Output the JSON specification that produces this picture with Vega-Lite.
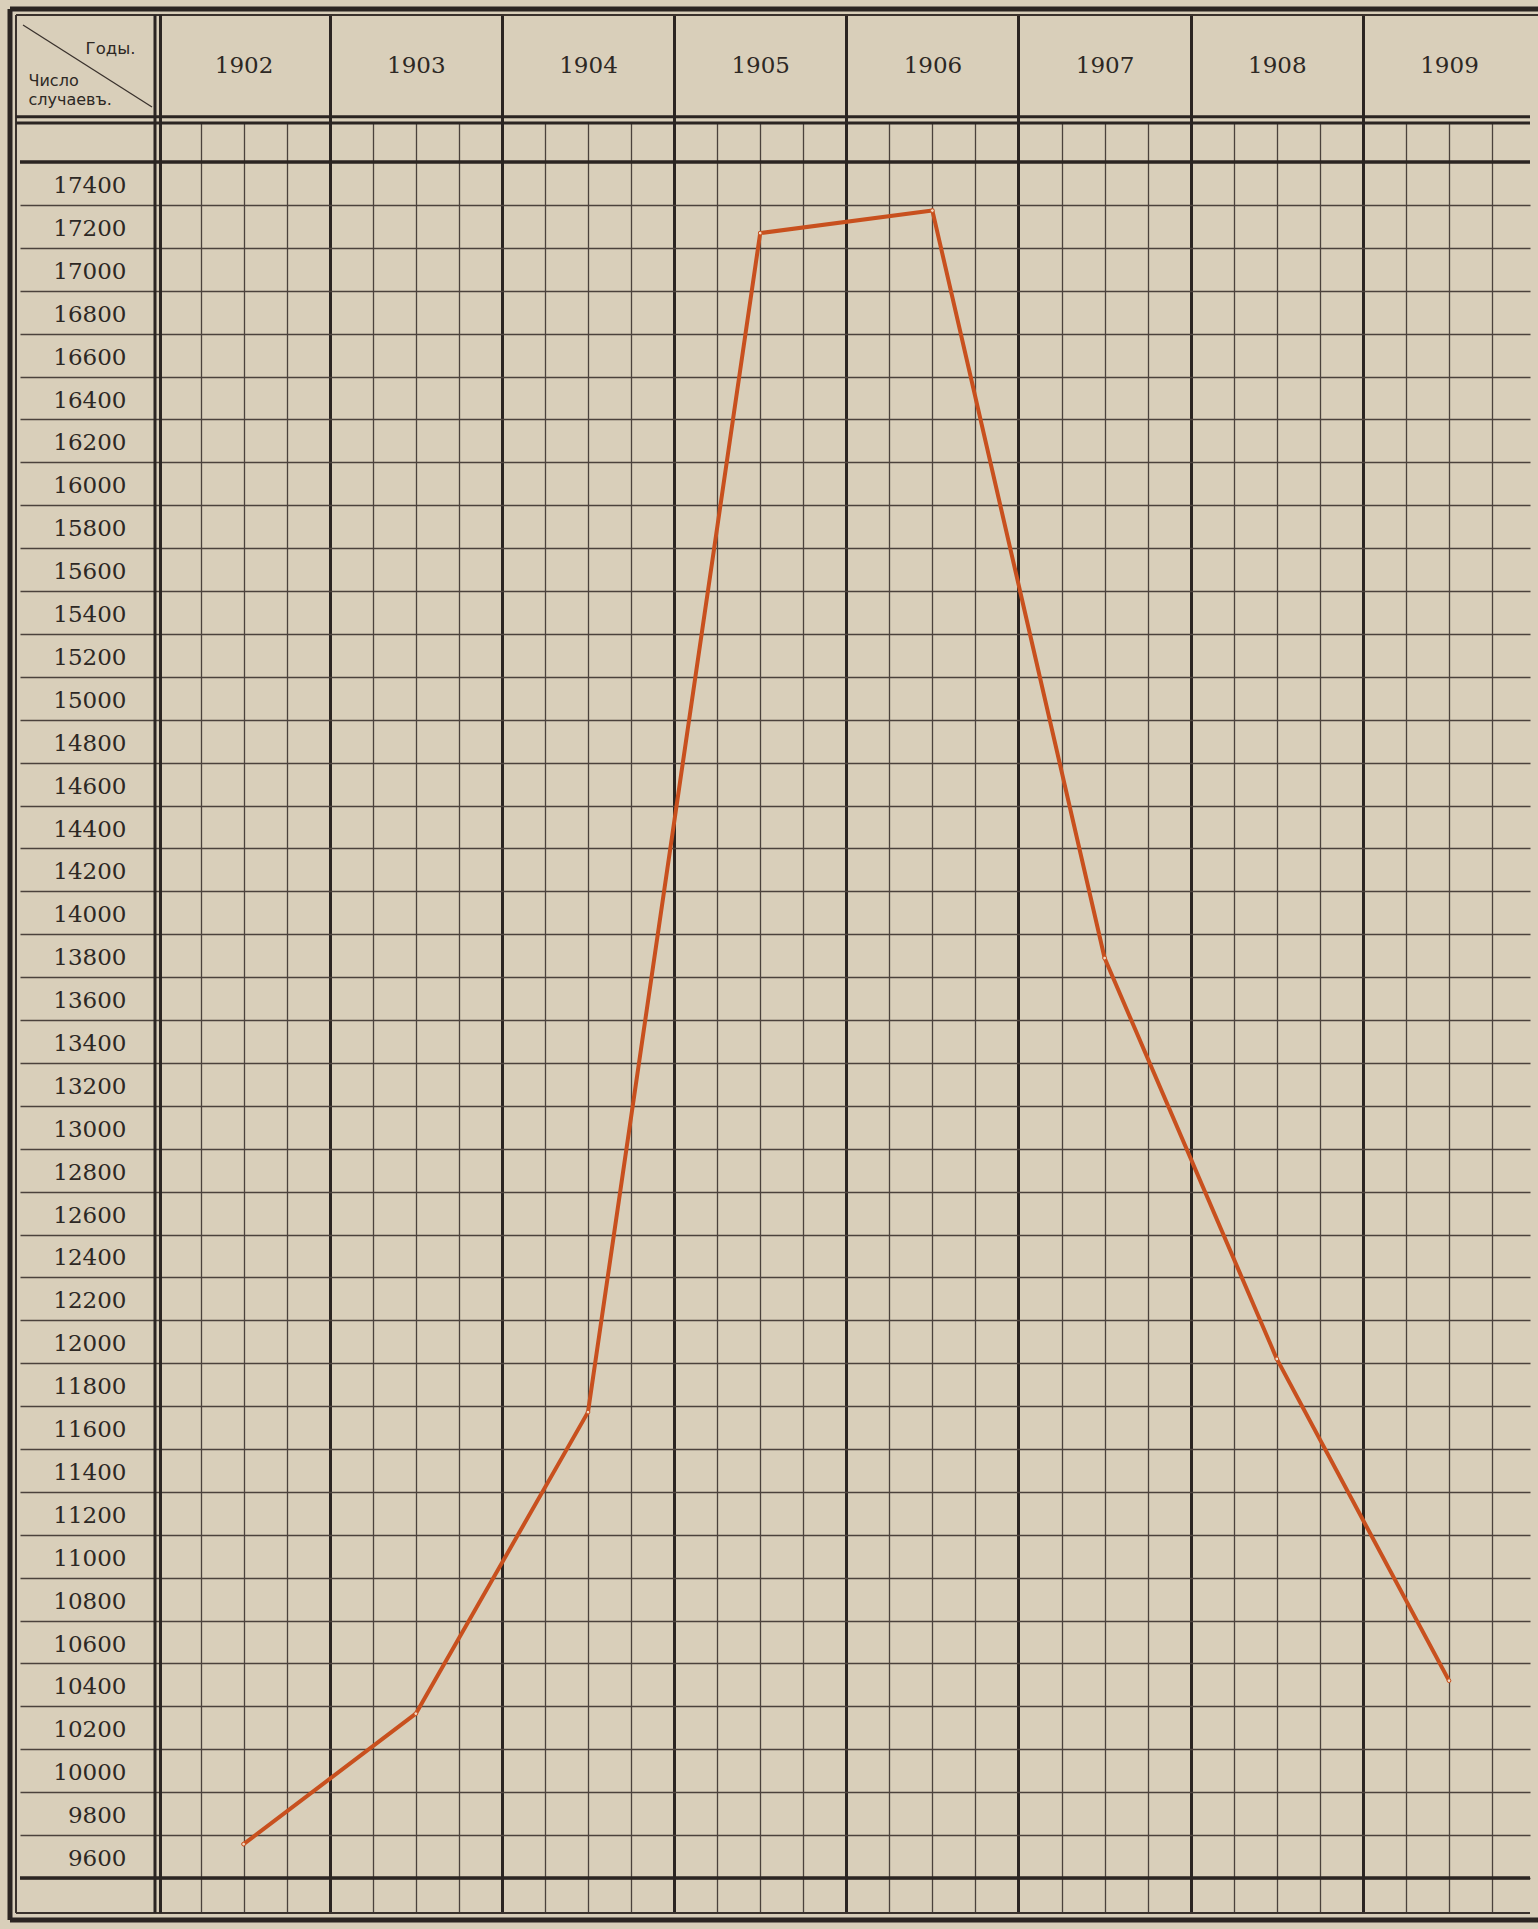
{
  "$schema": "https://vega.github.io/schema/vega-lite/v6.json",
  "width": 1375,
  "height": 1790,
  "autosize": {"type": "none"},
  "padding": {"left": 155, "top": 123, "right": 8, "bottom": 16},
  "background": "#d9cfba",
  "config": {"view": {"stroke": null}},
  "resolve": {"axis": {"x": "independent", "y": "independent"}},
  "layer": [
    {
      "data": {"values": [{}]},
      "mark": {"type": "rule", "color": "#2b2522", "strokeWidth": 5},
      "encoding": {
        "x": {"datum": 1900.6435, "type": "quantitative", "scale": {"domain": [1901.4855, 1909.4704], "nice": false, "zero": false}, "axis": null},
        "y": {"datum": 18213.82, "type": "quantitative", "scale": {"domain": [9336.74, 17682.31], "nice": false, "zero": false}, "axis": null},
        "y2": {"datum": 9304.1}
      }
    },
    {
      "data": {"values": [{}]},
      "mark": {"type": "rule", "color": "#2b2522", "strokeWidth": 5},
      "encoding": {
        "y": {"datum": 18213.82, "type": "quantitative", "scale": {"domain": [9336.74, 17682.31], "nice": false, "zero": false}, "axis": null},
        "x": {"datum": 1900.6435, "type": "quantitative", "scale": {"domain": [1901.4855, 1909.4704], "nice": false, "zero": false}, "axis": null},
        "x2": {"datum": 1909.5169}
      }
    },
    {
      "data": {"values": [{}]},
      "mark": {"type": "rule", "color": "#2b2522", "strokeWidth": 5},
      "encoding": {
        "y": {"datum": 9304.1, "type": "quantitative", "scale": {"domain": [9336.74, 17682.31], "nice": false, "zero": false}, "axis": null},
        "x": {"datum": 1900.6435, "type": "quantitative", "scale": {"domain": [1901.4855, 1909.4704], "nice": false, "zero": false}, "axis": null},
        "x2": {"datum": 1909.5169}
      }
    },
    {
      "data": {"values": [{}]},
      "mark": {"type": "rule", "color": "#3a322d", "strokeWidth": 2},
      "encoding": {
        "x": {"datum": 1900.6783, "type": "quantitative", "scale": {"domain": [1901.4855, 1909.4704], "nice": false, "zero": false}, "axis": null},
        "y": {"datum": 18185.84, "type": "quantitative", "scale": {"domain": [9336.74, 17682.31], "nice": false, "zero": false}, "axis": null},
        "y2": {"datum": 9336.74}
      }
    },
    {
      "data": {"values": [{}]},
      "mark": {"type": "rule", "color": "#3a322d", "strokeWidth": 2},
      "encoding": {
        "y": {"datum": 18185.84, "type": "quantitative", "scale": {"domain": [9336.74, 17682.31], "nice": false, "zero": false}, "axis": null},
        "x": {"datum": 1900.6783, "type": "quantitative", "scale": {"domain": [1901.4855, 1909.4704], "nice": false, "zero": false}, "axis": null},
        "x2": {"datum": 1909.5169}
      }
    },
    {
      "data": {"values": [{}]},
      "mark": {"type": "rule", "color": "#3a322d", "strokeWidth": 2},
      "encoding": {
        "y": {"datum": 9336.74, "type": "quantitative", "scale": {"domain": [9336.74, 17682.31], "nice": false, "zero": false}, "axis": null},
        "x": {"datum": 1900.6783, "type": "quantitative", "scale": {"domain": [1901.4855, 1909.4704], "nice": false, "zero": false}, "axis": null},
        "x2": {"datum": 1909.4704}
      }
    },
    {
      "data": {"values": [{}]},
      "mark": {"type": "rule", "color": "#2b2522", "strokeWidth": 3},
      "encoding": {
        "y": {"datum": 17711.68, "type": "quantitative", "scale": {"domain": [9336.74, 17682.31], "nice": false, "zero": false}, "axis": null},
        "x": {"datum": 1900.6783, "type": "quantitative", "scale": {"domain": [1901.4855, 1909.4704], "nice": false, "zero": false}, "axis": null},
        "x2": {"datum": 1909.4704}
      }
    },
    {
      "data": {"values": [{}]},
      "mark": {"type": "rule", "color": "#2b2522", "strokeWidth": 3},
      "encoding": {
        "y": {"datum": 17682.31, "type": "quantitative", "scale": {"domain": [9336.74, 17682.31], "nice": false, "zero": false}, "axis": null},
        "x": {"datum": 1900.6783, "type": "quantitative", "scale": {"domain": [1901.4855, 1909.4704], "nice": false, "zero": false}, "axis": null},
        "x2": {"datum": 1909.4704}
      }
    },
    {
      "data": {"values": [{}]},
      "mark": {"type": "rule", "color": "#2b2522", "strokeWidth": 3},
      "encoding": {
        "x": {"datum": 1901.4855, "type": "quantitative", "scale": {"domain": [1901.4855, 1909.4704], "nice": false, "zero": false}, "axis": null},
        "y": {"datum": 18185.84, "type": "quantitative", "scale": {"domain": [9336.74, 17682.31], "nice": false, "zero": false}, "axis": null},
        "y2": {"datum": 9336.74}
      }
    },
    {
      "data": {"values": [{}]},
      "mark": {"type": "rule", "color": "#2b2522", "strokeWidth": 3},
      "encoding": {
        "x": {"datum": 1901.5174, "type": "quantitative", "scale": {"domain": [1901.4855, 1909.4704], "nice": false, "zero": false}, "axis": null},
        "y": {"datum": 18185.84, "type": "quantitative", "scale": {"domain": [9336.74, 17682.31], "nice": false, "zero": false}, "axis": null},
        "y2": {"datum": 9336.74}
      }
    },
    {
      "data": {"values": [{}]},
      "mark": {"type": "rule", "color": "#2b2522", "strokeWidth": 3.5},
      "encoding": {
        "y": {"datum": 17500, "type": "quantitative", "scale": {"domain": [9336.74, 17682.31], "nice": false, "zero": false}, "axis": null},
        "x": {"datum": 1900.7015, "type": "quantitative", "scale": {"domain": [1901.4855, 1909.4704], "nice": false, "zero": false}, "axis": null},
        "x2": {"datum": 1909.4704}
      }
    },
    {
      "data": {"values": [{}]},
      "mark": {"type": "rule", "color": "#2b2522", "strokeWidth": 3.5},
      "encoding": {
        "y": {"datum": 9500, "type": "quantitative", "scale": {"domain": [9336.74, 17682.31], "nice": false, "zero": false}, "axis": null},
        "x": {"datum": 1900.7015, "type": "quantitative", "scale": {"domain": [1901.4855, 1909.4704], "nice": false, "zero": false}, "axis": null},
        "x2": {"datum": 1909.4704}
      }
    },
    {
      "data": {"values": [{}]},
      "mark": {"type": "rule", "color": "#3a322d", "strokeWidth": 1.3},
      "encoding": {
        "x": {"datum": 1900.719, "type": "quantitative", "scale": {"domain": [1901.4855, 1909.4704], "nice": false, "zero": false}, "axis": null},
        "y": {"datum": 18139.22, "type": "quantitative", "scale": {"domain": [9336.74, 17682.31], "nice": false, "zero": false}, "axis": null},
        "x2": {"datum": 1901.4681},
        "y2": {"datum": 17756.91}
      }
    },
    {
      "data": {"values": [
        {"year": 1902, "cases": 9658},
        {"year": 1903, "cases": 10266},
        {"year": 1904, "cases": 11672},
        {"year": 1905, "cases": 17169},
        {"year": 1906, "cases": 17274},
        {"year": 1907, "cases": 13789},
        {"year": 1908, "cases": 11920},
        {"year": 1909, "cases": 10420}
      ]},
      "mark": {"type": "line", "color": "#c8501e", "strokeWidth": 4, "strokeCap": "round", "strokeJoin": "round"},
      "encoding": {
        "x": {
          "field": "year", "type": "quantitative",
          "scale": {"domain": [1901.4855, 1909.4704], "nice": false, "zero": false},
          "axis": {
            "orient": "top",
            "values": [1902, 1903, 1904, 1905, 1906, 1907, 1908, 1909],
            "format": "d",
            "labelFont": "DejaVu Serif", "labelFontSize": 23, "labelColor": "#2d2824",
            "labelAlign": "center", "labelBaseline": "middle", "labelOffset": -86.1,
            "labelPadding": -50, "labelFlush": false, "labelOverlap": false,
            "ticks": true, "tickSize": 108, "tickWidth": 3, "tickOffset": 86.1,
            "tickColor": {"condition": {"test": "datum.value === 1909", "value": "transparent"}, "value": "#2b2522"},
            "grid": true, "gridWidth": 3,
            "gridColor": {"condition": {"test": "datum.value === 1909", "value": "transparent"}, "value": "#2b2522"},
            "domain": false,
            "title": "Годы.", "titleX": -45, "titleY": -70, "titleAlign": "center", "titleBaseline": "alphabetic",
            "titleAngle": 0, "titleFont": "DejaVu Sans", "titleFontSize": 16.5, "titleFontWeight": "normal", "titleColor": "#2d2824"
          }
        },
        "y": {
          "field": "cases", "type": "quantitative",
          "scale": {"domain": [9336.74, 17682.31], "nice": false, "zero": false},
          "axis": {
            "orient": "left",
            "values": [9600, 9800, 10000, 10200, 10400, 10600, 10800, 11000, 11200, 11400, 11600, 11800, 12000, 12200, 12400, 12600, 12800, 13000, 13200, 13400, 13600, 13800, 14000, 14200, 14400, 14600, 14800, 15000, 15200, 15400, 15600, 15800, 16000, 16200, 16400, 16600, 16800, 17000, 17200, 17400],
            "format": "d",
            "labelFont": "DejaVu Serif", "labelFontSize": 23, "labelColor": "#2d2824",
            "labelAlign": "right", "labelBaseline": "middle", "labelPadding": -106, "labelOffset": -19.45,
            "labelFlush": false, "labelOverlap": false,
            "ticks": true, "tickSize": 135, "tickWidth": 1.3, "tickOffset": 21.45, "tickColor": "#4b423c",
            "grid": true, "gridWidth": 1.3, "gridColor": "#4b423c",
            "domain": false,
            "title": ["Число", "случаевъ."], "titleX": -127, "titleY": -38, "titleAlign": "left", "titleBaseline": "alphabetic",
            "titleAngle": 0, "titleLineHeight": 19, "titleFont": "DejaVu Sans", "titleFontSize": 16, "titleFontWeight": "normal", "titleColor": "#2d2824"
          }
        }
      }
    },
    {
      "data": {"values": [
        {"year": 1902, "cases": 9658},
        {"year": 1903, "cases": 10266},
        {"year": 1904, "cases": 11672},
        {"year": 1905, "cases": 17169},
        {"year": 1906, "cases": 17274},
        {"year": 1907, "cases": 13789},
        {"year": 1908, "cases": 11920},
        {"year": 1909, "cases": 10420}
      ]},
      "mark": {"type": "point", "shape": "circle", "size": 14, "filled": true, "fill": "#f1d9c2", "stroke": "#c8501e", "strokeWidth": 1, "opacity": 1},
      "encoding": {
        "x": {
          "field": "year", "type": "quantitative",
          "scale": {"domain": [1901.4855, 1909.4704], "nice": false, "zero": false},
          "axis": {
            "orient": "bottom",
            "values": [1901.75, 1902, 1902.25, 1902.75, 1903, 1903.25, 1903.75, 1904, 1904.25, 1904.75, 1905, 1905.25, 1905.75, 1906, 1906.25, 1906.75, 1907, 1907.25, 1907.75, 1908, 1908.25, 1908.75, 1909, 1909.25],
            "grid": true, "gridColor": "#4b423c", "gridWidth": 1.3,
            "labels": false, "ticks": false, "domain": false, "title": null
          }
        },
        "y": {
          "field": "cases", "type": "quantitative",
          "scale": {"domain": [9336.74, 17682.31], "nice": false, "zero": false},
          "axis": null
        }
      }
    }
  ]
}
